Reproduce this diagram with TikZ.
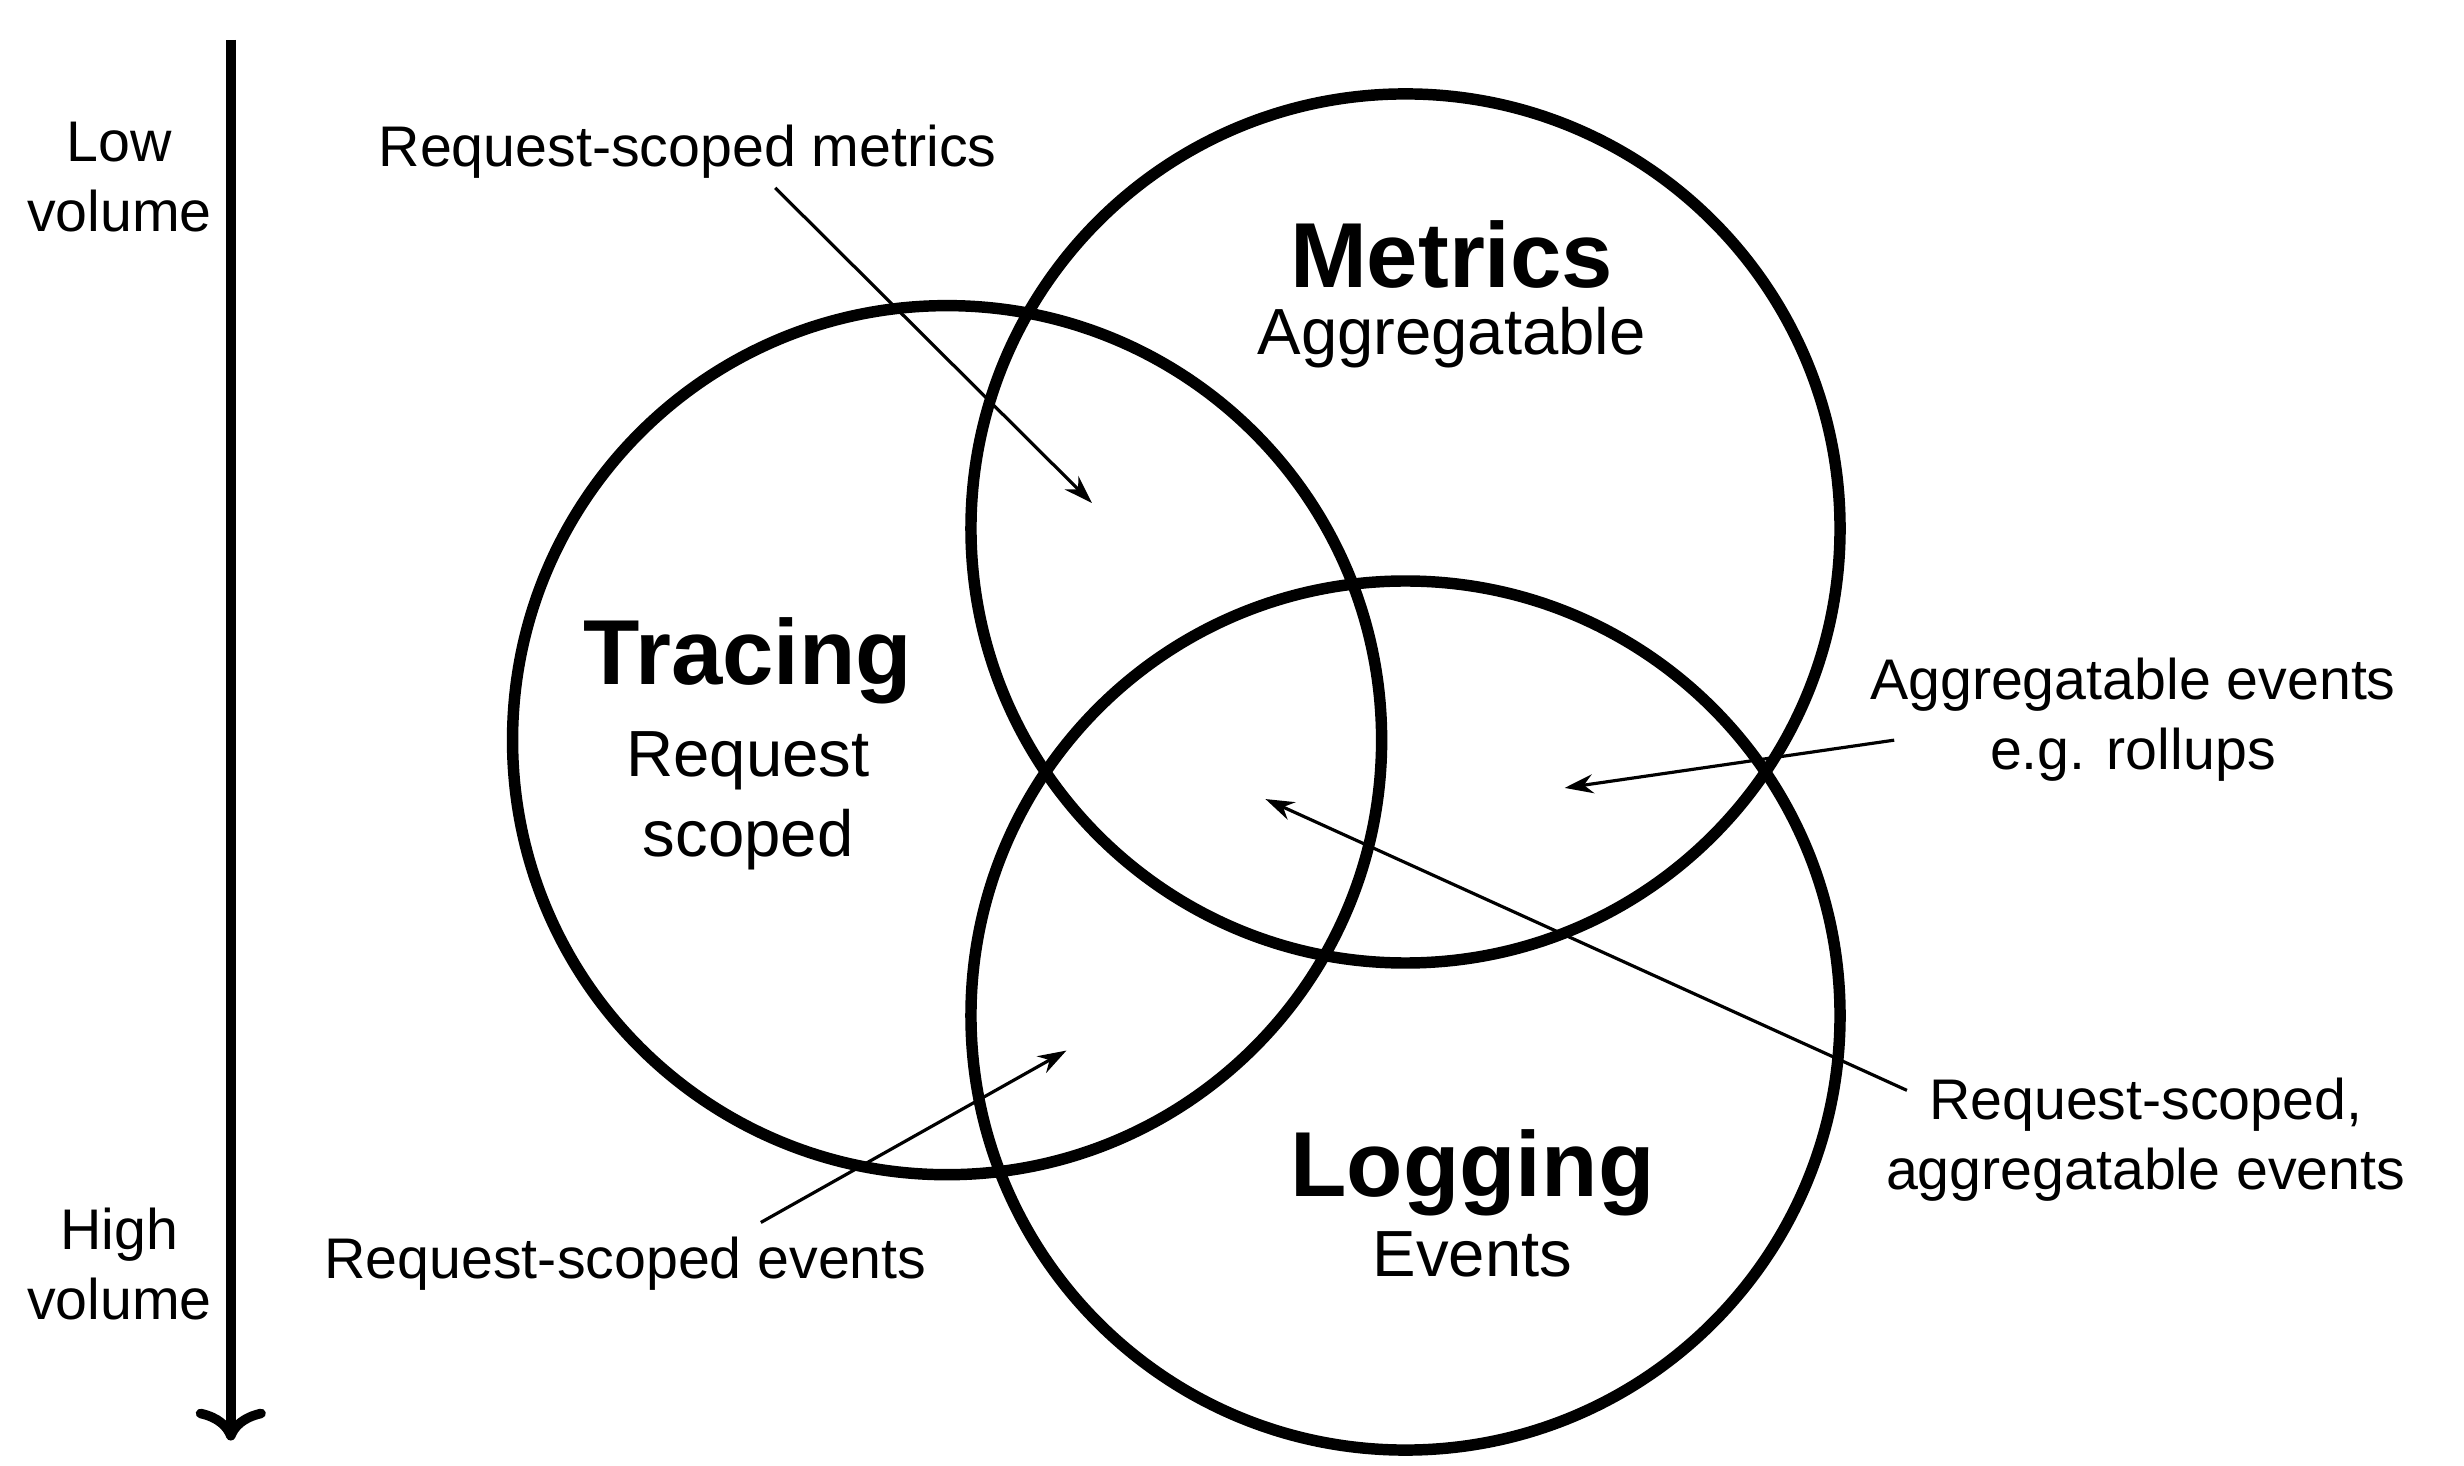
\documentclass[tikz,border=0pt]{standalone}
\usepackage{fontspec}
\setmainfont{Liberation Sans}
\usetikzlibrary{arrows.meta}
\begin{document}
\begin{tikzpicture}[x=0.5pt,y=-0.5pt,
  ring/.style={draw=black,line width=3.6pt,circle,minimum size=273pt,inner sep=0pt},
  lab/.style={font=\fontsize{18}{22}\selectfont,align=center,inner sep=0pt},
  sub/.style={font=\fontsize{20.5}{24}\selectfont,align=center,inner sep=0pt},
  big/.style={font=\fontsize{29}{32}\selectfont\bfseries,inner sep=0pt},
  ann/.style={-{Stealth[length=9pt,width=6pt]},line width=1pt}]
\useasboundingbox[fill=white] (0,0) rectangle (1548,921);
\node[ring] (T) at (595,465) {};
\node[ring] (M) at (883,332) {};
\node[ring] (L) at (883,638) {};
\coordinate (vtop) at (145,25);
\coordinate (vbot) at (145,905);
\draw[line width=3pt,-{To[length=10pt,width=22pt,line width=3pt]}] (vtop) -- (vbot);
\node[lab] (low) at (75,111) {Low\\volume};
\node[lab] (high) at (75,794) {High\\volume};
\node[big] (mt) at (912,160) {Metrics};
\node[sub] (ma) at (912,212) {Aggregatable};
\node[big] (tt) at (470,415) {Tracing};
\node[sub] (tr) at (470,503) {Request\\[1pt]scoped};
\node[big] (lt) at (925,737) {Logging};
\node[sub] (le) at (925,788) {Events};
\node[lab] (rsm) at (432,95) {Request-scoped metrics};
\node[lab] (age) at (1340,452) {Aggregatable events\\e.g. rollups};
\node[lab] (rsa) at (1348,716) {Request-scoped,\\aggregatable events};
\node[lab] (rse) at (393,794) {Request-scoped events};
\coordinate (p1) at (686,316);
\coordinate (p2) at (983,495);
\coordinate (p3) at (795,502);
\coordinate (p4) at (670,660);
\draw[ann] (487,118) -- (p1);
\draw[ann] (1190,465) -- (p2);
\draw[ann] (1198,685) -- (p3);
\draw[ann] (478,768) -- (p4);
\end{tikzpicture}
\end{document}
